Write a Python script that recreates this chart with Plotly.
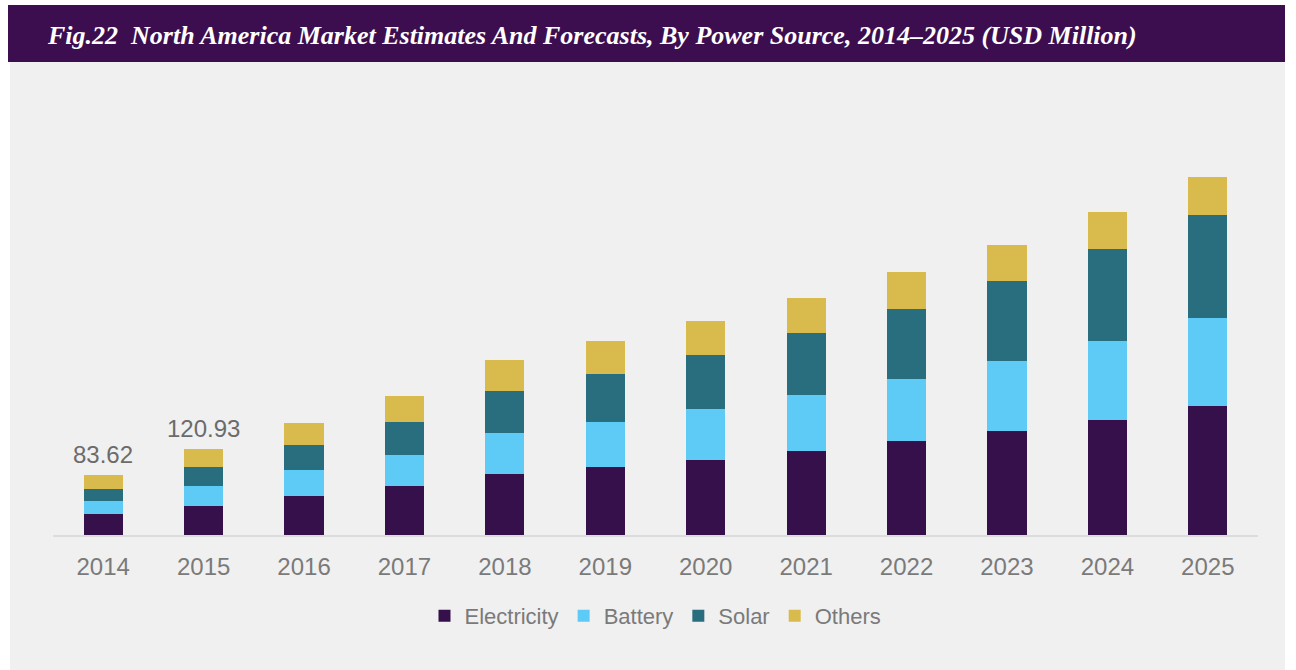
import plotly.graph_objects as go

# North America market by power source, USD million
years = ["2014", "2015", "2016", "2017", "2018", "2019",
         "2020", "2021", "2022", "2023", "2024", "2025"]
electricity = [28.8, 41.4, 55.1, 68.5, 85.4, 95.8, 106.0, 117.7, 131.7, 145.8, 161.8, 180.5]
battery = [18.3, 28.1, 36.5, 44.1, 57.6, 63.6, 71.2, 79.6, 88.1, 98.9, 110.9, 123.6]
solar = [18.2, 26.7, 35.1, 46.8, 59.0, 67.4, 76.3, 86.7, 98.3, 111.8, 128.3, 145.1]
others = [18.32, 24.73, 30.9, 36.5, 43.5, 45.0, 47.3, 49.1, 50.6, 51.5, 52.4, 53.9]
labeled_years = ["2014", "2015"]

series = [
    ("Electricity", electricity, "#36104a"),
    ("Battery", battery, "#5ecbf7"),
    ("Solar", solar, "#296e7e"),
    ("Others", others, "#d9bb4d"),
]

W, H = 1296, 670
L, R, T, B = 53, 38, 100, 135
plot_w = W - L - R
plot_h = H - T - B


def px_x(px):
    return (px - L) / plot_w


def px_y(py):
    return (H - B - py) / plot_h


fig = go.Figure()
for name, vals, color in series:
    fig.add_trace(go.Bar(
        x=years, y=vals, name=name,
        marker=dict(color=color, line=dict(width=0)),
        width=0.39,
    ))

totals = [sum(v) for v in zip(electricity, battery, solar, others)]
annotations = []
for i, (yr, tot) in enumerate(zip(years, totals)):
    if yr in labeled_years:
        annotations.append(dict(
            x=i, y=tot, xref="x", yref="y", text=f"{tot:.2f}",
            showarrow=False, yanchor="bottom", yshift=5,
            font=dict(family="Liberation Sans, Arial", size=24, color="#6b6b6b"),
        ))

annotations.append(dict(
    x=px_x(45), y=px_y(35), xref="paper", yref="paper",
    xanchor="left", yanchor="middle", showarrow=False,
    text="<b><i>Fig.22  North America Market Estimates And Forecasts, By Power Source, 2014–2025 (USD Million)</i></b>",
    font=dict(family="Liberation Serif, Times New Roman", size=26, color="#ffffff"),
))

shapes = [
    dict(type="rect", xref="paper", yref="paper", layer="below",
         x0=px_x(10), x1=px_x(1285), y0=px_y(670), y1=px_y(62),
         fillcolor="#f0f0f0", line=dict(width=0)),
    dict(type="rect", xref="paper", yref="paper", layer="below",
         x0=px_x(8), x1=px_x(1285), y0=px_y(62), y1=px_y(5),
         fillcolor="#3c0e50", line=dict(width=0)),
]

fig.update_layout(
    width=W, height=H,
    margin=dict(l=L, r=R, t=T, b=B, pad=0),
    barmode="stack",
    paper_bgcolor="#ffffff",
    plot_bgcolor="rgba(0,0,0,0)",
    showlegend=True,
    legend=dict(
        orientation="h", x=0.5, xanchor="center",
        y=px_y(616), yanchor="middle",
        font=dict(family="Liberation Sans, Arial", size=22, color="#7a7a7a"),
        bgcolor="rgba(0,0,0,0)", itemwidth=30, traceorder="normal",
    ),
    xaxis=dict(
        type="category",
        range=[-0.5, 11.5], showgrid=False, zeroline=False,
        showline=True, linecolor="#dcdcdc", linewidth=2,
        ticks="", ticklabelstandoff=9,
        tickfont=dict(family="Liberation Sans, Arial", size=24, color="#7a7a7a"),
    ),
    yaxis=dict(
        range=[0, plot_h / 0.712], visible=False, showgrid=False, zeroline=False,
    ),
    annotations=annotations,
    shapes=shapes,
)

fig.write_html("out.html")
